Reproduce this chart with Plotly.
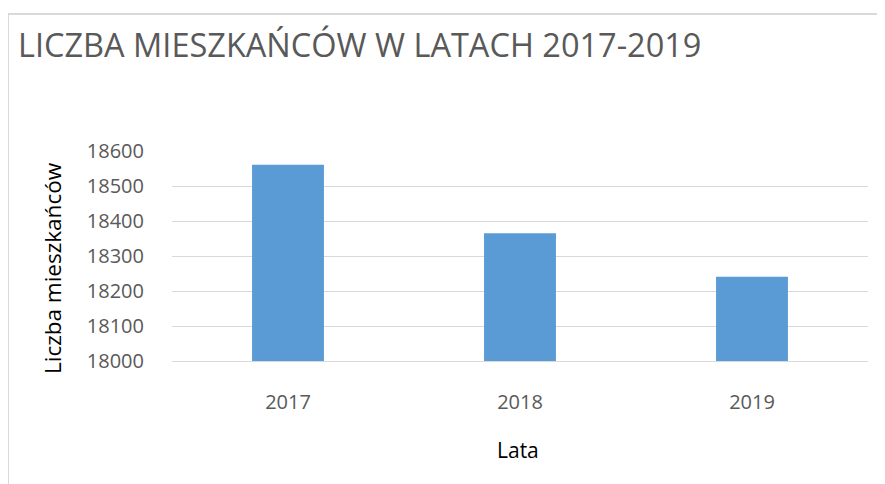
import plotly.graph_objects as go

years = ["2017", "2018", "2019"]
residents = [18561, 18365, 18241]
y_ticks = [18000, 18100, 18200, 18300, 18400, 18500, 18600]

OFF = 8  # page body margin
W, H = 885 - OFF, 484 - OFF
L, R, T, B = 172 - OFF, 868 - OFF, 151 - OFF, 361 - OFF

def px(x):
    return (x - OFF - L) / (R - L)

def py(y):
    return (B - (y - OFF)) / (B - T)

FONT = "Open Sans, sans-serif"

fig = go.Figure(go.Bar(x=years, y=residents, marker_color="#5B9BD5",
                       marker_line_width=0))

fig.update_layout(
    width=W, height=H,
    margin=dict(l=L, r=W - R, t=T, b=H - B, pad=0),
    plot_bgcolor="white", paper_bgcolor="white",
    bargap=0.69,
    showlegend=False,
    font=dict(family=FONT, color="#595959"),
)
fig.update_yaxes(range=[18000, 18600], tickvals=y_ticks,
                 ticktext=[str(v) for v in y_ticks],
                 showgrid=True, gridcolor="#D9D9D9", gridwidth=1,
                 zeroline=False, showline=False, ticks="",
                 tickfont=dict(size=20, color="#595959"),
                 ticklabelstandoff=27)
fig.update_xaxes(showline=True, linecolor="#D9D9D9", linewidth=1,
                 ticks="", tickfont=dict(size=20, color="#595959"),
                 ticklabelstandoff=23)

annotations = [
    dict(text="LICZBA MIESZKAŃCÓW W LATACH 2017-2019", x=px(16), y=py(44),
         xref="paper", yref="paper", xanchor="left", yanchor="middle",
         showarrow=False, font=dict(size=32.5, color="#595959", family=FONT)),
    dict(text="Liczba mieszkańców", x=px(52), y=py(268), textangle=-90,
         xref="paper", yref="paper", xanchor="center", yanchor="middle",
         showarrow=False, font=dict(size=22.5, color="#000000", family=FONT)),
    dict(text="Lata", x=px(518), y=py(450),
         xref="paper", yref="paper", xanchor="center", yanchor="middle",
         showarrow=False, font=dict(size=21, color="#000000", family=FONT)),
]
fig.update_layout(annotations=annotations)

fig.update_layout(shapes=[
    dict(type="line", xref="paper", yref="paper", x0=px(8), x1=px(8),
         y0=py(484), y1=py(14), line=dict(color="#D9D9D9", width=2)),
    dict(type="line", xref="paper", yref="paper", x0=px(8), x1=px(885),
         y0=py(14), y1=py(14), line=dict(color="#D9D9D9", width=2)),
])

fig.write_html("out.html")
